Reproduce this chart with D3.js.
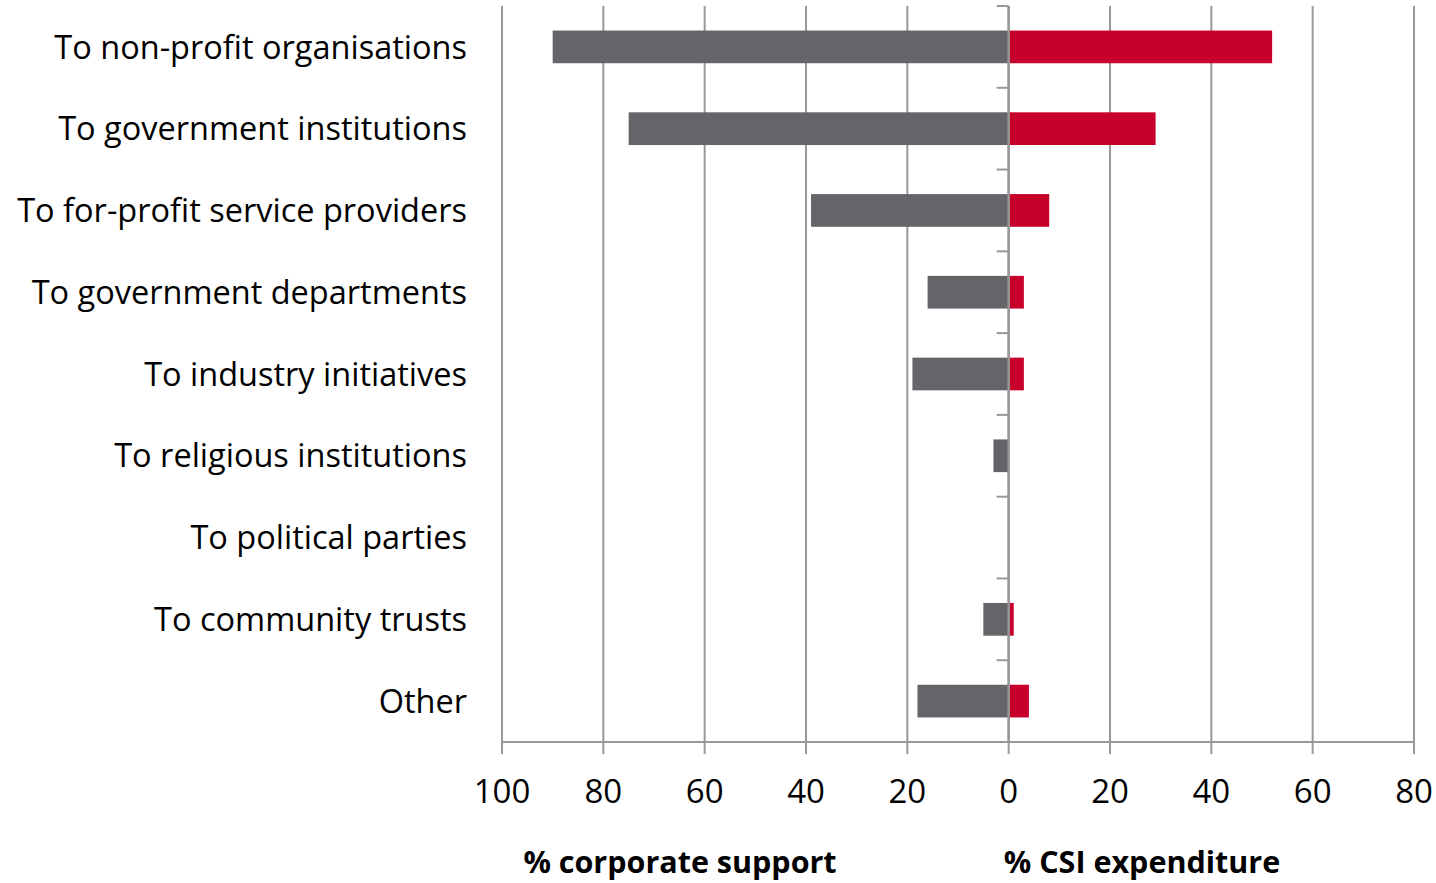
<!DOCTYPE html>
<html>
<head>
<meta charset="UTF-8">
<script src="https://d3js.org/d3.v7.min.js"></script>
<style>
  body { margin: 0; background: #fff; }
  text { font-family: "Open Sans", sans-serif; fill: #000; }
</style>
</head>
<body>
<svg id="canvas"></svg>
<script>
// data
categories = ["To non-profit organisations", "To government institutions", "To for-profit service providers",
              "To government departments", "To industry initiatives", "To religious institutions",
              "To political parties", "To community trusts", "Other"];
corporateSupport = [90, 75, 39, 16, 19, 3, 0, 5, 18];
csiExpenditure = [52, 29, 8, 3, 3, 0, 0, 1, 4];
tickValues = [-100, -80, -60, -40, -20, 0, 20, 40, 60, 80];

width = 1436;
height = 883;

svg = d3.select("#canvas").attr("width", width).attr("height", height);

x = d3.scaleLinear().domain([-100, 80]).range([502, 1414]);
y = d3.scaleBand().domain(categories).range([6, 742]).paddingInner(0.6).paddingOuter(0.3);

gridColor = "#989898";

// vertical grid lines
svg.append("g")
  .selectAll("line")
  .data(tickValues)
  .enter().append("line")
    .attr("x1", d => x(d)).attr("x2", d => x(d))
    .attr("y1", 6).attr("y2", 754)
    .attr("style", "stroke:" + gridColor + "; stroke-width:2;");

// bottom axis line
svg.append("line")
  .attr("x1", x(-100)).attr("x2", x(80))
  .attr("y1", 742).attr("y2", 742)
  .attr("style", "stroke:" + gridColor + "; stroke-width:2;");

// bars
svg.append("g").selectAll("rect")
  .data(categories)
  .enter().append("rect")
    .attr("x", (d, i) => x(-corporateSupport[i]))
    .attr("width", (d, i) => x(0) - x(-corporateSupport[i]))
    .attr("y", d => y(d))
    .attr("height", y.bandwidth())
    .attr("fill", "#636569");

svg.append("g").selectAll("rect")
  .data(categories)
  .enter().append("rect")
    .attr("x", x(0))
    .attr("width", (d, i) => x(csiExpenditure[i]) - x(0))
    .attr("y", d => y(d))
    .attr("height", y.bandwidth())
    .attr("fill", "#c8002c");

// category axis at zero, ticks at band boundaries
bounds = d3.range(categories.length).map(i => 6 + i * (736 / categories.length));
svg.append("g").selectAll("line")
  .data(bounds)
  .enter().append("line")
    .attr("x1", x(0) - 12).attr("x2", x(0))
    .attr("y1", d => d).attr("y2", d => d)
    .attr("style", "stroke:" + gridColor + "; stroke-width:2;");

svg.append("line")
  .attr("x1", x(0)).attr("x2", x(0))
  .attr("y1", 6).attr("y2", 742)
  .attr("style", "stroke:" + gridColor + "; stroke-width:2.5;");

// category labels
svg.append("g").selectAll("text")
  .data(categories)
  .enter().append("text")
    .attr("x", 467)
    .attr("y", d => y(d) + y.bandwidth() / 2)
    .attr("dy", ".36em")
    .attr("text-anchor", "end")
    .attr("style", "font-size:32.5px;")
    .text(d => d);

// tick labels
svg.append("g").selectAll("text")
  .data(tickValues)
  .enter().append("text")
    .attr("x", d => x(d))
    .attr("y", 803)
    .attr("text-anchor", "middle")
    .attr("style", "font-size:33px;")
    .text(d => Math.abs(d));

// axis titles
svg.append("text")
  .attr("x", 680).attr("y", 873)
  .attr("text-anchor", "middle")
  .attr("style", "font-size:30.5px; font-weight:bold;")
  .text("% corporate support");

svg.append("text")
  .attr("x", 1142).attr("y", 873)
  .attr("text-anchor", "middle")
  .attr("style", "font-size:30.5px; font-weight:bold;")
  .text("% CSI expenditure");
</script>
</body>
</html>
